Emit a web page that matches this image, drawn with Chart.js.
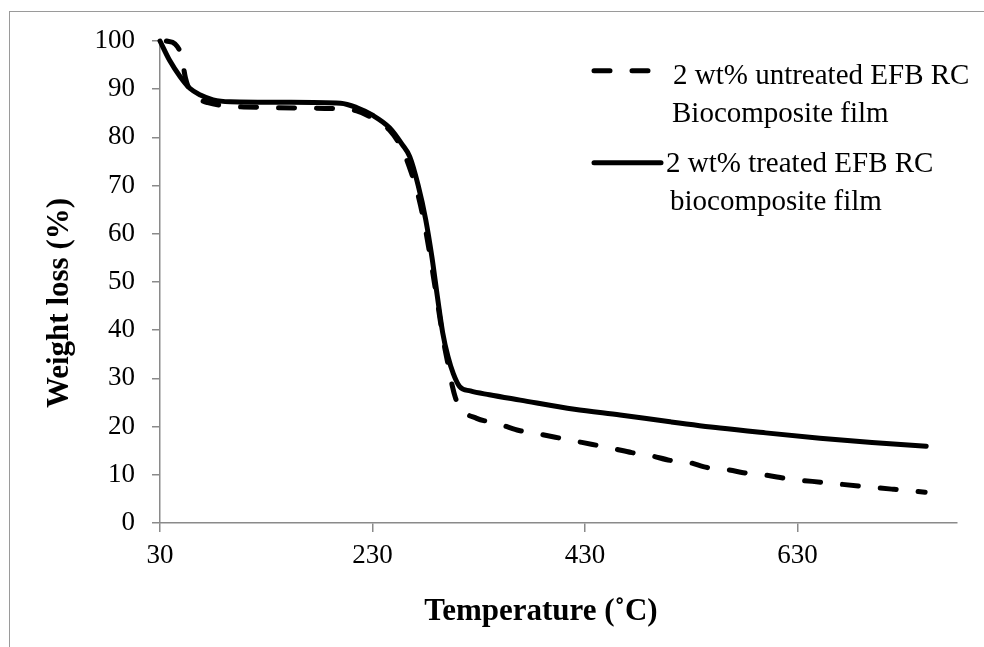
<!DOCTYPE html>
<html>
<head>
<meta charset="utf-8">
<script src="https://cdn.jsdelivr.net/npm/chart.js@4/dist/chart.umd.min.js"></script>
<style>
  html, body { margin: 0; padding: 0; background: #fff; overflow: hidden; }
  #wrap { position: relative; width: 984px; height: 647px; }
  #frame { position: absolute; left: 9px; top: 11px; width: 990px; height: 650px;
           border-left: 1px solid #9a9a9a; border-top: 1px solid #9a9a9a; pointer-events: none; }
</style>
</head>
<body>
<div id="wrap">
  <canvas id="tga"></canvas>
  <div id="frame"></div>
</div>
<script>
// x ticks shown on the temperature axis
const xTicks = [30, 230, 430, 630];

// 2 wt% untreated EFB RC (dashed)
const untreatedTemp   = [36, 44, 50, 54, 58, 65, 75, 90, 130, 200, 215, 230, 246, 258, 266, 274, 281, 287, 292, 297, 301, 305, 308, 312, 328, 347, 366, 383, 402, 418, 437, 455, 474, 491, 510, 527, 545, 563, 583, 601, 620, 655, 691, 720, 750];
const untreatedWeight = [100, 99.4, 97, 92.3, 89.8, 88.2, 87.2, 86.6, 86.2, 85.9, 85.5, 84, 81.5, 77.5, 73, 67, 59.5, 51.5, 44.5, 37.5, 33, 28.5, 26, 24, 21.7, 20.7, 19.3, 18.6, 17.8, 17.1, 16.3, 15.5, 14.6, 14, 13, 12.6, 11.5, 11.1, 10.3, 9.9, 9.2, 8.4, 7.6, 7.0, 6.4];

// 2 wt% treated EFB RC (solid)
const treatedTemp   = [30, 39, 49, 58, 68, 80, 96, 150, 200, 215, 230, 246, 258, 265, 273, 280, 286, 291, 296, 301, 306, 312, 322, 340, 369, 420, 463, 510, 557, 600, 651, 700, 751];
const treatedWeight = [100, 96, 92.6, 90.2, 88.8, 87.8, 87.4, 87.3, 87.1, 86.2, 84.6, 82, 78.5, 76, 70, 63, 55, 47, 39.5, 34.5, 31, 28.3, 27.4, 26.6, 25.5, 23.6, 22.4, 21, 19.7, 18.7, 17.6, 16.7, 15.9];

const seriesNames = [
  ['2 wt% untreated EFB RC', 'Biocomposite film'],
  ['2 wt% treated EFB RC', 'biocomposite film']
];
const xTitle = 'Temperature (\u02DAC)';
const yTitle = 'Weight loss (%)';

const serif = '"Liberation Serif", "Times New Roman", serif';
const axisGray = '#8a8a8a';

const toPoints = (xs, ys) => xs.map((x, i) => ({ x: x, y: ys[i] }));

// legend + axis titles drawn by hand so the two-line labels sit like the original
const overlay = {
  id: 'overlay',
  afterDraw(chart) {
    const ctx = chart.ctx;
    const ds = chart.data.datasets;
    ctx.save();
    ctx.fillStyle = '#000';

    ctx.font = 'bold 31px ' + serif;
    ctx.textAlign = 'center';
    ctx.textBaseline = 'alphabetic';
    ctx.fillText(xTitle, 541, 620);
    ctx.save();
    ctx.translate(68, 303);
    ctx.rotate(-Math.PI / 2);
    ctx.fillText(yTitle, 0, 0);
    ctx.restore();

    // legend samples
    const samples = [
      { y: 70.7, x0: 594, x1: 650 },
      { y: 162.7, x0: 594, x1: 661 }
    ];
    samples.forEach((s, i) => {
      ctx.beginPath();
      ctx.strokeStyle = ds[i].borderColor;
      ctx.lineWidth = ds[i].borderWidth;
      ctx.lineCap = 'round';
      ctx.setLineDash(ds[i].borderDash || []);
      ctx.moveTo(s.x0, s.y);
      ctx.lineTo(s.x1, s.y);
      ctx.stroke();
    });
    ctx.setLineDash([]);

    ctx.font = '29px ' + serif;
    ctx.textAlign = 'left';
    ctx.fillText(seriesNames[0][0], 673, 84);
    ctx.fillText(seriesNames[0][1], 672, 122);
    ctx.fillText(seriesNames[1][0], 666, 172);
    ctx.fillText(seriesNames[1][1], 670, 210);
    ctx.restore();
  }
};

new Chart(document.getElementById('tga'), {
  type: 'line',
  data: {
    datasets: [
      {
        label: seriesNames[0].join(' '),
        data: toPoints(untreatedTemp, untreatedWeight),
        borderColor: '#000',
        borderWidth: 5,
        borderDash: [16, 22],
        borderCapStyle: 'round',
        borderJoinStyle: 'round',
        clip: false
      },
      {
        label: seriesNames[1].join(' '),
        data: toPoints(treatedTemp, treatedWeight),
        borderColor: '#000',
        borderWidth: 5,
        borderCapStyle: 'round',
        borderJoinStyle: 'round',
        clip: false
      }
    ]
  },
  options: {
    responsive: true,
    maintainAspectRatio: false,
    animation: false,
    layout: { padding: { top: 41, right: 27, bottom: 0, left: 0 } },
    elements: {
      point: { radius: 0 },
      line: { cubicInterpolationMode: 'monotone' }
    },
    plugins: {
      legend: { display: false },
      tooltip: { enabled: false }
    },
    scales: {
      x: {
        type: 'linear',
        min: 30,
        max: 780,
        afterBuildTicks: s => { s.ticks = xTicks.map(v => ({ value: v })); },
        afterFit: s => { s.height = 124; },
        grid: { display: true, drawOnChartArea: false, tickLength: 9, color: axisGray, lineWidth: 1.5 },
        border: { display: true, color: axisGray, width: 1.5 },
        ticks: { padding: 8, color: '#000', font: { family: serif, size: 27 }, maxRotation: 0 }
      },
      y: {
        min: 0,
        max: 100,
        afterFit: s => { s.width = 160; },
        grid: { display: true, drawOnChartArea: false, tickLength: 8, color: axisGray, lineWidth: 1.5 },
        border: { display: true, color: axisGray, width: 1.5 },
        ticks: { stepSize: 10, padding: 17, color: '#000', font: { family: serif, size: 27 } }
      }
    }
  },
  plugins: [overlay]
});
</script>
</body>
</html>
